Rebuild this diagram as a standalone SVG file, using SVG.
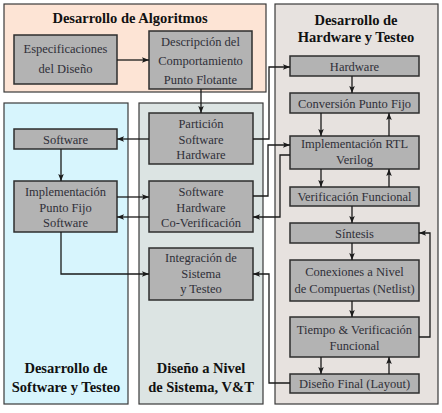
<svg xmlns="http://www.w3.org/2000/svg" width="442" height="413" viewBox="0 0 442 413">
<defs>
<marker id="ah" viewBox="0 0 10 10" refX="10" refY="5" markerWidth="7" markerHeight="7" markerUnits="userSpaceOnUse" orient="auto">
<path d="M0,1 L10,5 L0,9 L2,5 Z" fill="#1a1a1a"/>
</marker>
<style>
.panel{stroke:#3a3a3a;stroke-width:1.2}
.node rect{fill:#b3b3b3;stroke:#2e2e2e;stroke-width:1.5}
.t{font-family:"Liberation Serif","Times New Roman",serif;font-size:12.5px;fill:#2f2f38;text-anchor:middle}
.h{font-family:"Liberation Serif","Times New Roman",serif;font-size:14.5px;font-weight:bold;fill:#111;text-anchor:middle}
.c{fill:none;stroke:#1a1a1a;stroke-width:1.3;marker-end:url(#ah)}
</style>
</defs>
<rect width="442" height="413" fill="#ffffff"/>
<g id="panel-alg"><rect class="panel" x="4" y="4" width="262" height="88" fill="#fde4d5"/><text class="h" x="130" y="23">Desarrollo de Algoritmos</text></g>
<g id="panel-sw"><rect class="panel" x="4" y="103" width="124" height="301" fill="#d7f5fd"/><text class="h" x="66" y="373">Desarrollo de</text><text class="h" x="66" y="392">Software y Testeo</text></g>
<g id="panel-sys"><rect class="panel" x="139" y="103" width="124" height="301" fill="#dce4e3"/><text class="h" x="201" y="373">Diseño a Nivel</text><text class="h" x="201" y="392">de Sistema, V&amp;T</text></g>
<g id="panel-hw"><rect class="panel" x="275" y="4" width="163" height="400" fill="#e7e2df"/><text class="h" x="356" y="25">Desarrollo de</text><text class="h" x="356" y="42">Hardware y Testeo</text></g>

<g id="spec" class="node"><rect x="14" y="35" width="103" height="49"/><text class="t" x="65.5" y="53">Especificaciones</text><text class="t" x="65.5" y="73">del Diseño</text></g>
<g id="desc" class="node"><rect x="149" y="31" width="103" height="58"/><text class="t" x="200.5" y="46">Descripción del</text><text class="t" x="200.5" y="65">Comportamiento</text><text class="t" x="200.5" y="84">Punto Flotante</text></g>
<g id="part" class="node"><rect x="149" y="113" width="104" height="51"/><text class="t" x="201" y="128">Partición</text><text class="t" x="201" y="143.5">Software</text><text class="t" x="201" y="159">Hardware</text></g>
<g id="soft" class="node"><rect x="14" y="129" width="103" height="20"/><text class="t" x="65.5" y="143.5">Software</text></g>
<g id="implsw" class="node"><rect x="14" y="181" width="103" height="51"/><text class="t" x="65.5" y="196">Implementación</text><text class="t" x="65.5" y="211.5">Punto Fijo</text><text class="t" x="65.5" y="227">Software</text></g>
<g id="cover" class="node"><rect x="149" y="181" width="104" height="51"/><text class="t" x="201" y="196">Software</text><text class="t" x="201" y="211.5">Hardware</text><text class="t" x="201" y="227">Co-Verificación</text></g>
<g id="integ" class="node"><rect x="149" y="248" width="104" height="52"/><text class="t" x="201" y="262">Integración de</text><text class="t" x="201" y="277.5">Sistema</text><text class="t" x="201" y="293">y Testeo</text></g>

<g id="hw" class="node"><rect x="290" y="56" width="129" height="20"/><text class="t" x="354.5" y="70.5">Hardware</text></g>
<g id="conv" class="node"><rect x="290" y="93" width="129" height="20"/><text class="t" x="354.5" y="107.5">Conversión Punto Fijo</text></g>
<g id="rtl" class="node"><rect x="290" y="136" width="129" height="33"/><text class="t" x="354.5" y="148">Implementación RTL</text><text class="t" x="354.5" y="164">Verilog</text></g>
<g id="verf" class="node"><rect x="290" y="187" width="129" height="19"/><text class="t" x="354.5" y="201">Verificación Funcional</text></g>
<g id="sint" class="node"><rect x="290" y="223" width="129" height="20"/><text class="t" x="354.5" y="237.5">Síntesis</text></g>
<g id="conex" class="node"><rect x="290" y="260" width="129" height="41"/><text class="t" x="354.5" y="276">Conexiones a Nivel</text><text class="t" x="354.5" y="293">de Compuertas (Netlist)</text></g>
<g id="tiempo" class="node"><rect x="290" y="317" width="129" height="40"/><text class="t" x="354.5" y="334">Tiempo &amp; Verificación</text><text class="t" x="354.5" y="350">Funcional</text></g>
<g id="final" class="node"><rect x="290" y="374" width="129" height="19"/><text class="t" x="354.5" y="388">Diseño Final (Layout)</text></g>

<g id="connectors">
<path class="c" d="M117,60 H149"/>
<path class="c" d="M201,89 V113"/>
<path class="c" d="M149,139 H117"/>
<path class="c" d="M61,149 V181"/>
<path class="c" d="M117,197 H149"/>
<path class="c" d="M149,217 H117"/>
<path class="c" d="M61,232 V274 H149"/>
<path class="c" d="M253,139 H269 V67 H290"/>
<path class="c" d="M253,196 H268 V145 H290"/>
<path class="c" d="M290,155 H280 V217 H253"/>
<path class="c" d="M290,383 H269 V274 H253"/>
<path class="c" d="M352,76 V93"/>
<path class="c" d="M321,113 V136"/>
<path class="c" d="M389,136 V113"/>
<path class="c" d="M321,169 V187"/>
<path class="c" d="M389,187 V169"/>
<path class="c" d="M352,206 V223"/>
<path class="c" d="M352,243 V260"/>
<path class="c" d="M352,301 V317"/>
<path class="c" d="M321,357 V374"/>
<path class="c" d="M389,374 V357"/>
<path class="c" d="M419,337 H430 V233 H419"/>
</g>
</svg>
